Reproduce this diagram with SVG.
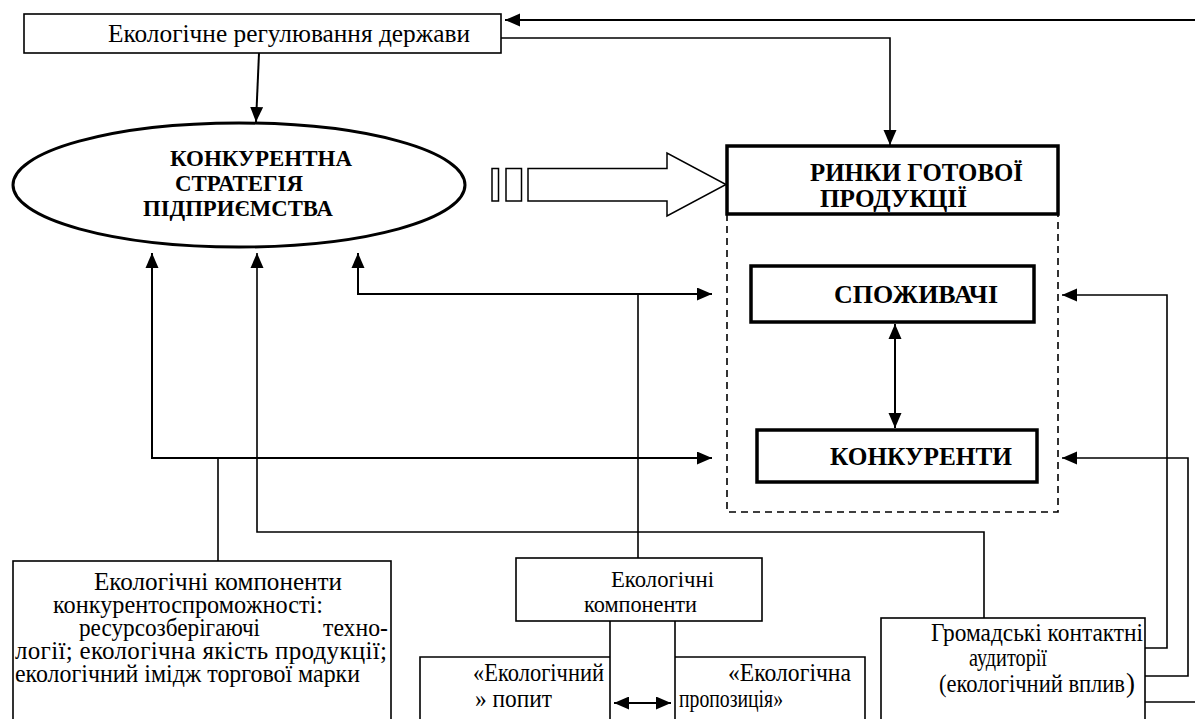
<svg xmlns="http://www.w3.org/2000/svg" width="1195" height="719" viewBox="0 0 1195 719">
<style>
  .t { font-size: 26px; fill: #000; }
  .b { font-size: 26px; font-weight: bold; fill: #000; }
  .thin { fill: #fff; stroke: #000; stroke-width: 1.6; }
  .thick { fill: #fff; stroke: #000; stroke-width: 3.5; }
  .c { fill: none; stroke: #000; stroke-width: 2; }
  .c1 { fill: none; stroke: #000; stroke-width: 1.6; }
</style>
<defs>
  <marker id="ah" markerUnits="userSpaceOnUse" markerWidth="16" markerHeight="14" refX="15" refY="6.5" orient="auto">
    <path d="M0,0 L15,6.5 L0,13 z" fill="#000"/>
  </marker>
  <marker id="ahs" markerUnits="userSpaceOnUse" markerWidth="16" markerHeight="14" refX="0" refY="6.5" orient="auto">
    <path d="M15,0 L0,6.5 L15,13 z" fill="#000"/>
  </marker>
</defs>
<rect width="1195" height="719" fill="#fff"/>

<g id="connectors">
  <path class="c" d="M1195,20 L505,20" marker-end="url(#ah)"/>
  <path class="c1" d="M501,38 L890,38 L890,145" marker-end="url(#ah)"/>
  <path class="c" d="M259,53 L256,122" marker-end="url(#ah)"/>
  <path d="M727,214 L727,512 L1058,512 L1058,214" fill="none" stroke="#000" stroke-width="1.6" stroke-dasharray="7,5"/>
  <path class="c" d="M895,324 L895,428" marker-start="url(#ahs)" marker-end="url(#ah)"/>
  <path class="c" d="M358,253 L358,294 L712,294" marker-start="url(#ahs)" marker-end="url(#ah)"/>
  <path class="c1" d="M638,294 L638,558"/>
  <path class="c" d="M152,253 L152,458 L712,458" marker-start="url(#ahs)" marker-end="url(#ah)"/>
  <path class="c1" d="M218,458 L218,561"/>
  <path class="c1" d="M257,253 L257,532 L984,532 L984,618" marker-start="url(#ahs)"/>
  <path class="c1" d="M1145,648 L1167,648 L1167,295 L1062,295" marker-end="url(#ah)"/>
  <path class="c1" d="M1145,676 L1188,676 L1188,458 L1062,458" marker-end="url(#ah)"/>
  <path class="c1" d="M1145,702 L1195,702"/>
  <path class="c1" d="M610,621 L610,719"/>
  <path class="c1" d="M675,621 L675,719"/>
  <path class="c" d="M614,703 L671,703" marker-start="url(#ahs)" marker-end="url(#ah)"/>
</g>

<g id="state-regulation">
  <rect class="thin" x="24" y="14" width="477" height="39"/>
  <text class="t" font-family="Liberation Serif, serif" x="108" y="42" textLength="362" lengthAdjust="spacingAndGlyphs">Екологічне регулювання держави</text>
</g>

<g id="strategy">
  <ellipse cx="239" cy="185" rx="226" ry="62" fill="#fff" stroke="#000" stroke-width="3"/>
  <text class="b" font-family="Liberation Serif, serif" style="font-size:23px"><tspan x="170" y="166" textLength="182" lengthAdjust="spacingAndGlyphs">КОНКУРЕНТНА</tspan><tspan x="175" y="191" textLength="128" lengthAdjust="spacingAndGlyphs">СТРАТЕГІЯ</tspan><tspan x="143" y="216" textLength="190" lengthAdjust="spacingAndGlyphs">ПІДПРИЄМСТВА</tspan></text>
</g>

<g id="big-arrow">
  <rect x="492" y="168.5" width="6.5" height="32.5" fill="#fff" stroke="#000" stroke-width="1.5"/>
  <rect x="506" y="168.5" width="15.5" height="32.5" fill="#fff" stroke="#000" stroke-width="1.5"/>
  <path d="M528,168.5 L667,168.5 L667,153 L726,184.5 L667,216 L667,201 L528,201 z" fill="#fff" stroke="#000" stroke-width="1.5"/>
</g>

<g id="markets">
  <rect class="thick" x="727" y="146" width="331" height="68"/>
  <text class="b" font-family="Liberation Serif, serif"><tspan x="810" y="181" textLength="213" lengthAdjust="spacingAndGlyphs">РИНКИ ГОТОВОЇ</tspan><tspan x="820" y="207" textLength="147" lengthAdjust="spacingAndGlyphs">ПРОДУКЦІЇ</tspan></text>
</g>

<g id="consumers">
  <rect class="thick" x="751" y="266" width="283" height="56"/>
  <text class="b" font-family="Liberation Serif, serif" x="834" y="303" textLength="164" lengthAdjust="spacingAndGlyphs">СПОЖИВАЧІ</text>
</g>

<g id="competitors">
  <rect class="thick" x="757" y="430" width="280" height="52"/>
  <text class="b" font-family="Liberation Serif, serif" x="830" y="465" textLength="182" lengthAdjust="spacingAndGlyphs">КОНКУРЕНТИ</text>
</g>

<g id="eco-competitiveness">
  <rect class="thin" x="13" y="561" width="378" height="170"/>
  <text class="t" font-family="Liberation Serif, serif" style="font-size:25px"><tspan x="94" y="590" textLength="248" lengthAdjust="spacingAndGlyphs">Екологічні компоненти</tspan><tspan x="53" y="613" textLength="270" lengthAdjust="spacingAndGlyphs">конкурентоспроможності:</tspan><tspan x="79" y="636" textLength="181" lengthAdjust="spacingAndGlyphs">ресурсозберігаючі</tspan><tspan x="323" y="636" textLength="65" lengthAdjust="spacingAndGlyphs">техно-</tspan><tspan x="15" y="659" textLength="372" lengthAdjust="spacing">логії; екологічна якість продукції;</tspan><tspan x="15" y="682" textLength="345" lengthAdjust="spacingAndGlyphs">екологічний імідж торгової марки</tspan></text>
</g>

<g id="eco-components">
  <rect class="thin" x="516" y="558" width="246" height="63"/>
  <text class="t" font-family="Liberation Serif, serif" style="font-size:24px"><tspan x="611" y="587" textLength="103" lengthAdjust="spacingAndGlyphs">Екологічні</tspan><tspan x="584" y="612" textLength="113" lengthAdjust="spacingAndGlyphs">компоненти</tspan></text>
</g>

<g id="eco-demand">
  <path class="c1" d="M610,657 L420,657 L420,719"/>
  <text class="t" font-family="Liberation Serif, serif" style="font-size:25px"><tspan x="473" y="681" textLength="131" lengthAdjust="spacingAndGlyphs">«Екологічний</tspan><tspan x="475" y="707" textLength="77" lengthAdjust="spacingAndGlyphs">» попит</tspan></text>
</g>

<g id="eco-supply">
  <path class="c1" d="M675,657 L865,657 L865,719"/>
  <text class="t" font-family="Liberation Serif, serif" style="font-size:25px"><tspan x="728" y="681" textLength="123" lengthAdjust="spacingAndGlyphs">«Екологічна</tspan><tspan x="679" y="707" textLength="104" lengthAdjust="spacingAndGlyphs">пропозиція»</tspan></text>
</g>

<g id="public-audiences">
  <rect class="thin" x="881" y="618" width="264" height="120"/>
  <text class="t" font-family="Liberation Serif, serif" style="font-size:25px"><tspan x="931" y="641" textLength="212" lengthAdjust="spacingAndGlyphs">Громадські контактні</tspan><tspan x="969" y="666" textLength="78" lengthAdjust="spacingAndGlyphs">аудиторії</tspan><tspan x="939" y="692" textLength="186" lengthAdjust="spacingAndGlyphs">(екологічний вплив</tspan><tspan style="font-size:27px" x="1126" y="692">)</tspan></text>
</g>
</svg>
